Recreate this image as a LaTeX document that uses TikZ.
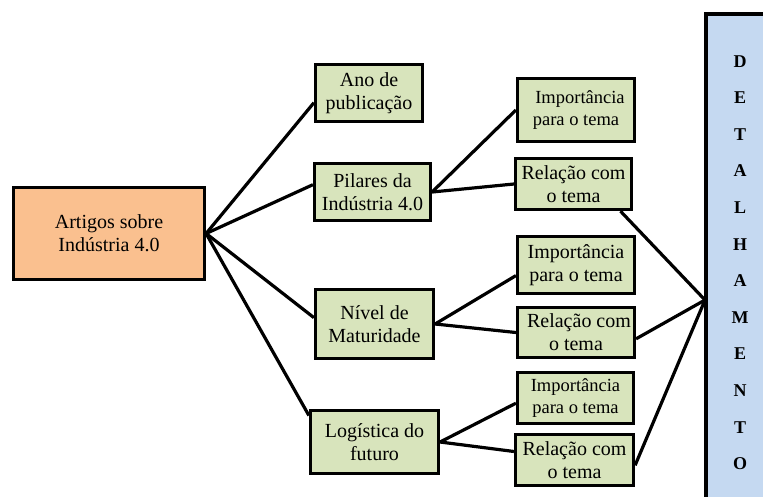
\documentclass[tikz,border=0pt]{standalone}
\usepackage{fontspec}
\setmainfont{Liberation Serif}
\usepackage{tikz}

\definecolor{boxgreen}{RGB}{216,228,188}
\definecolor{boxorange}{RGB}{250,192,143}
\definecolor{boxblue}{RGB}{197,217,241}

\begin{document}
\begin{tikzpicture}[x=1pt,y=-1pt,line width=3.2pt,
  gbox/.style={draw,fill=boxgreen,inner sep=0pt,align=center,font=\fontsize{20}{23}\selectfont},
  sbox/.style={gbox,font=\fontsize{18.5}{22}\selectfont}]
\useasboundingbox (0,0) rectangle (763,496);
\clip (0,0) rectangle (763,496);
\node[draw,fill=boxorange,inner sep=0pt,align=center,font=\fontsize{20}{23}\selectfont,minimum width=191pt,minimum height=92pt] (art) at (109,233.5) {Artigos sobre\\Indústria 4.0};
\node[gbox,minimum width=107pt,minimum height=57pt] (ano) at (369,93) {Ano de\\publicação};
\node[gbox,minimum width=116pt,minimum height=57pt] (pil) at (372.5,192) {Pilares da\\Indústria 4.0};
\node[gbox,minimum width=118pt,minimum height=69pt] (niv) at (374.5,324) {Nível de\\Maturidade};
\node[gbox,minimum width=128pt,minimum height=63pt] (log) at (374.5,442) {Logística do\\futuro};
\node[sbox,minimum width=117pt,minimum height=63pt] (imp1) at (576,110) {\hspace*{8pt}Importância\\para o tema};
\node[gbox,minimum width=116pt,minimum height=51pt] (rel1) at (573.5,184) {Relação com\\o tema};
\node[gbox,minimum width=117pt,minimum height=57pt] (imp2) at (576,265) {Importância\\para o tema};
\node[gbox,minimum width=117pt,minimum height=50pt] (rel2) at (576,332.5) {\hspace*{6pt}Relação com\\o tema};
\node[sbox,minimum width=116pt,minimum height=51pt] (imp3) at (575.5,398) {Importância\\para o tema};
\node[gbox,minimum width=118pt,minimum height=51pt] (rel3) at (574.5,460) {Relação com\\o tema};
\node[draw,fill=boxblue,inner sep=0pt,align=center,font=\bfseries\fontsize{18}{36.6}\selectfont,minimum width=68pt,minimum height=497pt] (det) at (740,262.5) {D\\E\\T\\A\\L\\H\\A\\M\\E\\N\\T\\O};
\coordinate (hub) at (705,300);
\draw (art.east) -- (ano.190);
\draw (art.east) -- (pil.173);
\draw (art.east) -- (niv.174);
\draw (art.east) -- (log.158);
\draw (pil.east) -- (imp1.west);
\draw (pil.east) -- (rel1.west);
\draw (niv.east) -- (imp2.190);
\draw (niv.east) -- (rel2.west);
\draw (log.east) -- (imp3.185);
\draw (log.east) -- (rel3.172);
\draw (rel1.330) -- (hub);
\draw (rel2.-6) -- (hub);
\draw (rel3.-5) -- (hub);
\end{tikzpicture}
\end{document}
